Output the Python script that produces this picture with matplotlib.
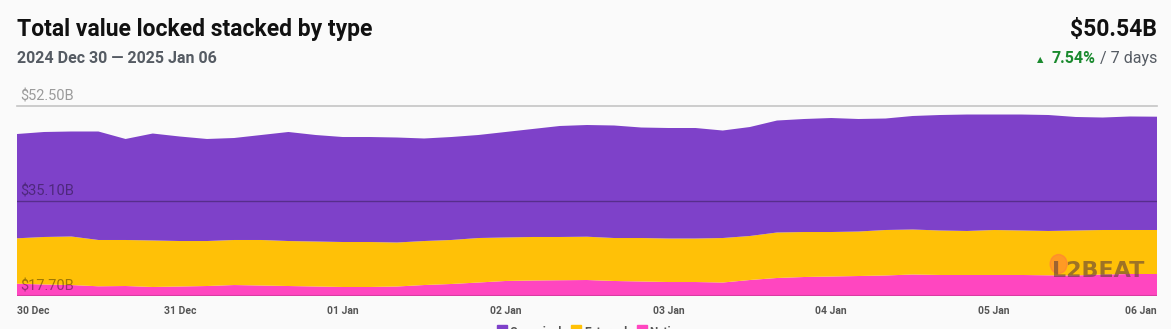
import numpy as np
import pandas as pd
import matplotlib
matplotlib.use("Agg")
import matplotlib.pyplot as plt
import matplotlib.transforms as mtransforms
from matplotlib.patches import Rectangle, Ellipse

plt.rcParams['font.family'] = ['Roboto', 'DejaVu Sans']

# TVL by type, USD billions, every 4 hours from 2024-12-30 00:00 to 2025-01-06 00:00
native = [19.95, 19.81, 19.71, 19.48, 19.53, 19.35, 19.44, 19.53, 19.71, 19.62,
          19.53, 19.44, 19.35, 19.35, 19.44, 19.71, 19.90, 20.17, 20.45, 20.54,
          20.59, 20.63, 20.45, 20.36, 20.26, 20.26, 20.17, 20.63, 21.00, 21.18,
          21.27, 21.36, 21.46, 21.64, 21.55, 21.55, 21.55, 21.55, 21.49, 21.46,
          21.64, 21.73, 21.73]
external = [8.32, 8.70, 8.89, 8.48, 8.43, 8.52, 8.33, 8.24, 8.25, 8.34,
            8.24, 8.24, 8.24, 8.24, 8.06, 8.06, 8.06, 8.15, 7.97, 7.97,
            7.92, 7.93, 7.87, 7.96, 7.97, 7.97, 8.15, 8.06, 8.33, 8.24,
            8.15, 8.15, 8.33, 8.24, 8.15, 8.06, 8.24, 8.15, 8.12, 8.24,
            8.15, 8.06, 8.06]
canonical = [19.10, 19.23, 19.23, 19.87, 18.50, 19.59, 19.14, 18.69, 18.68, 19.23,
             19.97, 19.51, 19.23, 19.23, 19.23, 18.78, 18.86, 18.87, 19.32, 19.78,
             20.33, 20.46, 20.61, 20.24, 20.24, 20.24, 19.69, 19.96, 20.51, 20.70,
             20.88, 20.61, 20.42, 20.79, 21.15, 21.33, 21.15, 21.24, 21.24, 20.79,
             20.60, 20.79, 20.75]
times = pd.date_range("2024-12-30", "2025-01-06", freq="4h")
series_names = ["Canonical", "External", "Native"]
series_colors = ["#7e41c9", "#ffc107", "#ff46c0"]
y_ticks = [17.70, 35.10, 52.50]
total_label = "$50.54B"
change_label = "7.54%"

W, H = 1171, 329
fig = plt.figure(figsize=(W / 100, H / 100), dpi=100)
fig.patch.set_facecolor("#fafafa")


def fx(px):
    return px / W


def fy(py):
    return 1 - py / H


ax = fig.add_axes([fx(17), fy(296), fx(1157) - fx(17), fy(106) - fy(296)])
ax.set_facecolor("#fafafa")
ax.stackplot(times, native, external, canonical,
             colors=series_colors[::-1], linewidth=0, zorder=1)
ax.set_xlim(times[0], times[-1])
ax.set_ylim(y_ticks[0], y_ticks[-1])
for s in ax.spines.values():
    s.set_visible(False)
ax.set_yticks([])

# horizontal guides and their labels, drawn over the areas
ax.axhline(y_ticks[2], color="#c4c4c4", lw=1.2, zorder=3, clip_on=False)
ax.axhline(y_ticks[1], color="black", alpha=0.3, lw=1, zorder=3)
ax.axhline(y_ticks[0], color="black", alpha=0.15, lw=1.5, zorder=3)
label_tr = (mtransforms.blended_transform_factory(ax.transAxes, ax.transData)
            + mtransforms.ScaledTranslation(0, 2 / 72, fig.dpi_scale_trans))
for v in y_ticks:
    ax.text(fx(20) - fx(17), v, f"${v:.2f}B", transform=label_tr,
            fontsize=10.5, color="black", alpha=0.38, va="bottom", ha="left",
            zorder=4)

# day ticks
days = pd.date_range("2024-12-30", "2025-01-06", freq="D")
ax.set_xticks(days)
ax.set_xticklabels([d.strftime("%d %b") for d in days])
ax.tick_params(axis="x", length=0, pad=7, labelsize=7.5, labelcolor="#555555")
labs = ax.get_xticklabels()
for lab in labs:
    lab.set_fontweight("semibold")
labs[0].set_ha("left")
labs[-1].set_ha("right")

# header
fig.text(fx(17), fy(36), "Total value locked stacked by type", fontsize=16.5,
         fontweight="bold", color="#111111", va="baseline")
fig.text(fx(17), fy(63), "2024 Dec 30 \u2014 2025 Jan 06", fontsize=11.5,
         fontweight="semibold", color="#555b63", va="baseline")
fig.text(fx(1157), fy(36), total_label, fontsize=16.5, fontweight="bold",
         color="#111111", va="baseline", ha="right")

fig.canvas.draw()
renderer = fig.canvas.get_renderer()

# watermark, with the orange blob tucked behind the "L"
wm = fig.text(fx(1144), fy(277), "L2BEAT", fontsize=16, color="#5e3f3a",
              alpha=0.6, ha="right", va="baseline",
              fontfamily="Liberation Sans Narrow", fontweight="bold", zorder=3)
wm_left = wm.get_window_extent(renderer).x0
fig.patches.append(Ellipse(((wm_left + 7) / W, fy(264)), 17 / W, 19 / H,
                           transform=fig.transFigure, color="#ff7a3d",
                           alpha=0.55, zorder=2))

t1 = fig.text(fx(1157), fy(63), " / 7 days", fontsize=11.5, color="#555b63",
              va="baseline", ha="right")
w1 = t1.get_window_extent(renderer).width
t2 = fig.text(fx(1157) - w1 / W, fy(63), change_label, fontsize=11.5,
              fontweight="semibold", color="#1a8a2e", va="baseline", ha="right")
w2 = t2.get_window_extent(renderer).width
fig.text(fx(1157) - (w1 + w2 + 8) / W, fy(62), "\u25b2", fontsize=6,
         color="#1a8a2e", va="baseline", ha="right",
         fontfamily=["DejaVu Sans"])

# legend row (runs below the bottom edge)
x = 497
for name, c in zip(series_names, series_colors):
    fig.patches.append(Rectangle((fx(x), fy(335)), 10 / W, 10 / H,
                                 transform=fig.transFigure, color=c))
    t = fig.text(fx(x + 13), fy(326), name, fontsize=8.5, color="#555555",
                 va="top", ha="left", fontweight="semibold")
    x += 13 + t.get_window_extent(renderer).width + 9

fig.savefig("out.png", dpi=100, facecolor=fig.get_facecolor())
